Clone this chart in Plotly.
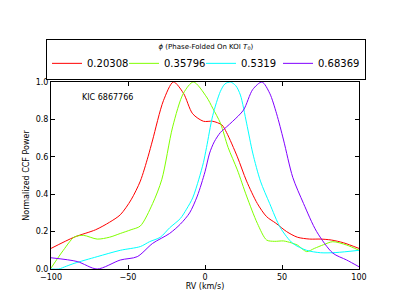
import plotly.graph_objects as go

labels = ["0.20308", "0.35796", "0.5319", "0.68369"]
colors = ["#ff0000", "#80ff00", "#00ffff", "#8000ff"]

red_x = [-100, -85, -71, -62, -55, -48, -42, -37, -34, -27, -20.5, -14, -8, -1, 5, 11, 14, 21, 27, 34, 40, 46, 53, 60, 68, 75, 82, 90, 100]
red_y = [0.11, 0.17, 0.21, 0.25, 0.29, 0.37, 0.47, 0.60, 0.69, 0.90, 1.0, 0.94, 0.83, 0.79, 0.79, 0.77, 0.73, 0.60, 0.47, 0.35, 0.28, 0.245, 0.20, 0.17, 0.16, 0.16, 0.155, 0.14, 0.11]

green_x = [-100, -92, -85, -79, -70, -62, -55, -48, -42, -34, -28, -21, -14, -7.5, 1, 5, 10, 15, 21, 27, 34, 40, 45, 51, 56, 60, 66, 71, 77, 83, 92, 100]
green_y = [0.005, 0.10, 0.17, 0.18, 0.16, 0.17, 0.19, 0.21, 0.23, 0.35, 0.48, 0.76, 0.94, 1.0, 0.92, 0.86, 0.78, 0.65, 0.53, 0.39, 0.244, 0.155, 0.148, 0.15, 0.14, 0.128, 0.093, 0.11, 0.13, 0.146, 0.128, 0.10]

cyan_x = [-100, -95, -90, -85, -70, -55, -42, -36, -29, -23, -16, -12, -8, -4, -1, 1, 5, 10, 13, 16.5, 20, 23, 27, 31, 36, 42, 49, 57, 66, 75, 85, 100]
cyan_y = [0.0, 0.0, 0.015, 0.03, 0.066, 0.10, 0.12, 0.146, 0.17, 0.22, 0.27, 0.32, 0.38, 0.48, 0.57, 0.65, 0.82, 0.95, 0.99, 1.0, 0.98, 0.93, 0.78, 0.62, 0.47, 0.35, 0.22, 0.137, 0.10, 0.087, 0.088, 0.10]

purple_x = [-100, -83, -70, -55, -44, -34, -23, -16, -10, -5, 0, 3, 6, 10, 14, 18, 25, 31, 37, 42, 46.5, 51, 57, 64, 72.5, 83, 92, 100]
purple_y = [0.06, 0.04, 0.0, 0.048, 0.066, 0.137, 0.19, 0.24, 0.30, 0.39, 0.52, 0.62, 0.68, 0.73, 0.76, 0.79, 0.85, 0.96, 1.0, 0.94, 0.83, 0.69, 0.49, 0.35, 0.20, 0.085, 0.048, 0.012]

series = [(red_x, red_y), (green_x, green_y), (cyan_x, cyan_y), (purple_x, purple_y)]
legend_widths = [32, 32, 32, 42]

fig = go.Figure()
for (xs, ys), lab, col, lw in zip(series, labels, colors, legend_widths):
    fig.add_trace(go.Scatter(x=xs, y=ys, mode="lines", name=lab, legendwidth=lw,
                             line=dict(color=col, width=1, shape="spline", smoothing=0.8)))

fig.add_annotation(x=-81, y=0.915, xref="x", yref="y", text="KIC 6867766",
                   showarrow=False, xanchor="left", yanchor="middle",
                   font=dict(size=8, color="black"))

axis_common = dict(showline=True, linecolor="black", linewidth=1, mirror="ticks",
                   ticks="inside", ticklen=4, tickcolor="black", showgrid=False,
                   zeroline=False, tickfont=dict(size=8, color="black"),
                   automargin=False)

fig.update_xaxes(range=[-100, 100], tickvals=[-100, -50, 0, 50, 100],
                 title=dict(text="RV (km/s)", font=dict(size=8, color="black"), standoff=2),
                 **axis_common)
fig.update_yaxes(range=[0, 1], tickvals=[0, 0.2, 0.4, 0.6, 0.8, 1.0],
                 tickformat=".1f",
                 title=dict(text="Normalized CCF Power", font=dict(size=8, color="black"), standoff=4),
                 **axis_common)

fig.update_layout(
    width=400, height=300,
    margin=dict(l=51, r=41, t=82, b=31, autoexpand=False),
    paper_bgcolor="white", plot_bgcolor="white",
    font=dict(family="DejaVu Sans", color="black"),
    showlegend=True,
    legend=dict(orientation="h", xref="paper", yref="paper",
                x=(46 - 51) / 308, xanchor="left", y=1.012, yanchor="bottom",
                bordercolor="black", borderwidth=1, bgcolor="white",
                font=dict(size=10, color="black"),
                entrywidthmode="pixels",
                tracegroupgap=0,
                title=dict(text="<i>ϕ</i> (Phase-Folded On KOI <i>T</i><sub>0</sub>)",
                           side="top center", font=dict(size=7, color="black"))),
)

fig.write_html("out.html", post_script="document.body.style.margin='0';",
               config={"displayModeBar": False})
